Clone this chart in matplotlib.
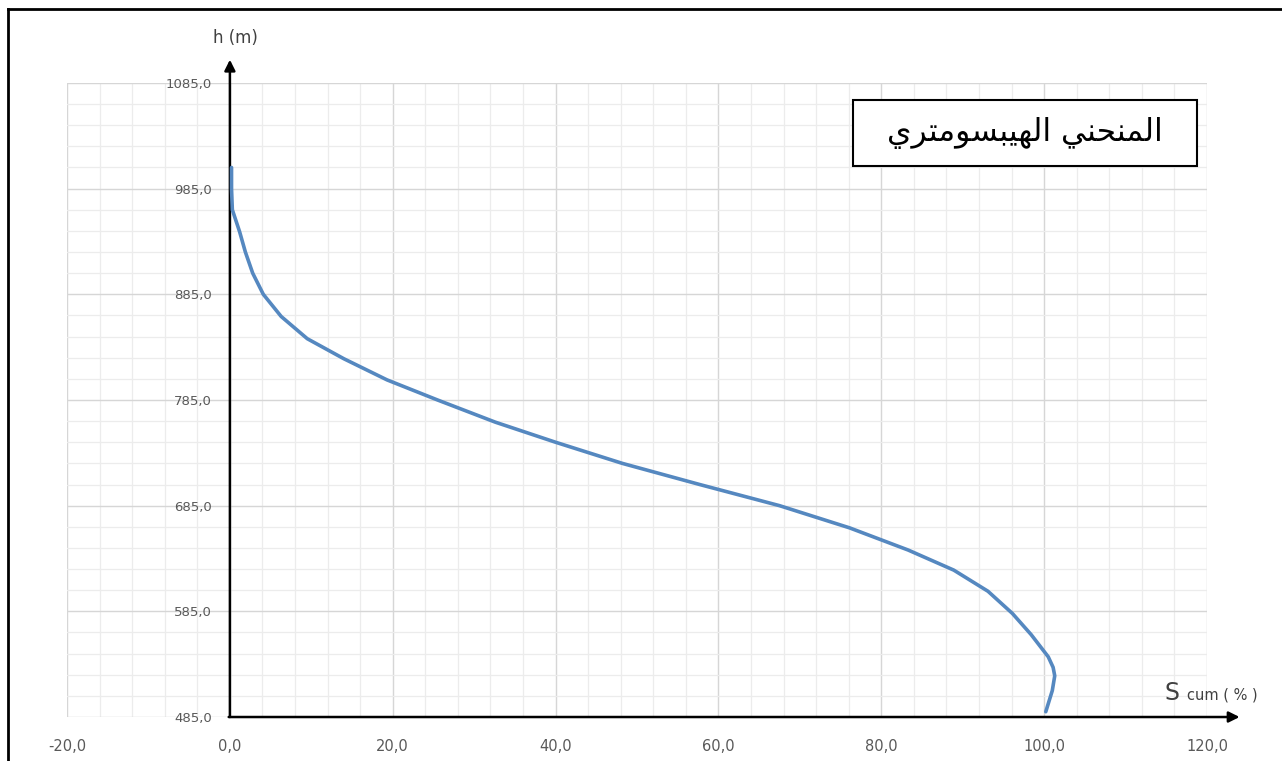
import matplotlib.pyplot as plt
from matplotlib.lines import Line2D
from matplotlib.patches import Rectangle
from matplotlib.ticker import FuncFormatter

# courbe hypsometrique : surface cumulee (%) / altitude (m)
s_cum = [0.2, 0.2, 0.3, 1.2, 1.9, 2.8, 4.1, 6.3, 9.5, 14.0, 19.3, 25.5,
         32.6, 40.0, 48.2, 57.7, 67.5, 76.1, 83.3, 88.9, 93.1, 96.1, 98.4,
         100.5, 101.1, 101.3, 101.0, 100.6, 100.2]
h = [1005, 985, 965, 944, 925, 905, 885, 864, 843, 824, 804, 785,
     764, 745, 725, 705, 685, 664, 643, 624, 604, 583, 563,
     542, 532, 524, 510, 500, 490]

x_ticks = [-20, 0, 20, 40, 60, 80, 100, 120]
x_minor = list(range(-20, 121, 4))
y_ticks = [485, 585, 685, 785, 885, 985, 1085]
y_minor = list(range(485, 1086, 20))

titre = 'المنحني الهيبسومتري'

# formes contextuelles (isolee, finale, initiale, mediane)
formes = {
    'ا': ('\uFE8D', '\uFE8E', None, None),
    'ل': ('\uFEDD', '\uFEDE', '\uFEDF', '\uFEE0'),
    'م': ('\uFEE1', '\uFEE2', '\uFEE3', '\uFEE4'),
    'ن': ('\uFEE5', '\uFEE6', '\uFEE7', '\uFEE8'),
    'ح': ('\uFEA1', '\uFEA2', '\uFEA3', '\uFEA4'),
    'ي': ('\uFEF1', '\uFEF2', '\uFEF3', '\uFEF4'),
    'ه': ('\uFEE9', '\uFEEA', '\uFEEB', '\uFEEC'),
    'ب': ('\uFE8F', '\uFE90', '\uFE91', '\uFE92'),
    'س': ('\uFEB1', '\uFEB2', '\uFEB3', '\uFEB4'),
    'و': ('\uFEED', '\uFEEE', None, None),
    'ت': ('\uFE95', '\uFE96', '\uFE97', '\uFE98'),
    'ر': ('\uFEAD', '\uFEAE', None, None),
}


def forme_mot(mot):
    res = []
    for i, c in enumerate(mot):
        f = formes[c]
        avant = i > 0 and formes[mot[i - 1]][2] is not None
        apres = i < len(mot) - 1 and f[2] is not None
        if avant and apres:
            res.append(f[3])
        elif avant:
            res.append(f[1])
        elif apres:
            res.append(f[2])
        else:
            res.append(f[0])
    return ''.join(reversed(res))


def arabe(txt):
    return ' '.join(forme_mot(m) for m in reversed(txt.split(' ')))


def virgule(v, pos=None):
    return f'{v:.1f}'.replace('.', ',')


fig = plt.figure(figsize=(12.82, 7.61), dpi=100)
fig.patch.set_facecolor('white')
ax = fig.add_axes([0.0523, 0.0578, 0.8892, 0.8332])
ax.set_xlim(-20, 120)
ax.set_ylim(485, 1085)

ax.set_xticks(x_ticks)
ax.set_xticks(x_minor, minor=True)
ax.set_yticks(y_ticks)
ax.set_yticks(y_minor, minor=True)
ax.xaxis.set_major_formatter(FuncFormatter(virgule))
ax.yaxis.set_major_formatter(FuncFormatter(virgule))

ax.grid(which='major', color='#d6d6d6', lw=1.0, zorder=0)
ax.grid(which='minor', color='#ececec', lw=0.9, zorder=0)
for sp in ax.spines.values():
    sp.set_visible(False)
ax.spines['left'].set_position(('data', 0))

ax.tick_params(which='both', length=0)
ax.tick_params(axis='x', pad=16, labelsize=10.5, labelcolor='#595959')
ax.tick_params(axis='y', pad=13, labelsize=9.5, labelcolor='#595959')

# axes avec fleches
ax.annotate('', xy=(0, 1107), xytext=(0, 485),
            arrowprops=dict(arrowstyle='-|>', color='black', lw=1.8,
                            mutation_scale=16, shrinkA=0, shrinkB=0),
            annotation_clip=False, zorder=4)
ax.annotate('', xy=(124, 485), xytext=(-0.15, 485),
            arrowprops=dict(arrowstyle='-|>', color='black', lw=1.8,
                            mutation_scale=16, shrinkA=0, shrinkB=0),
            annotation_clip=False, zorder=4)

ax.plot(s_cum, h, color='#5588c0', lw=2.6, solid_capstyle='round',
        solid_joinstyle='round', zorder=5, clip_on=False)

# cadre du titre
ax.add_patch(Rectangle((0.6895, 0.869), 0.3015, 0.104, transform=ax.transAxes,
                       facecolor='white', edgecolor='black', lw=1.5, zorder=6))
ax.text(0.8405, 0.921, arabe(titre), transform=ax.transAxes, ha='center',
        va='center', fontsize=22.5, family=['DejaVu Sans'], color='black',
        zorder=7)

fig.text(0.1833, 0.950, 'h (m)', ha='center', va='center', fontsize=12,
         color='#404040')
fig.text(0.9087, 0.0802, 'S', ha='left', va='baseline', fontsize=17,
         color='#404040')
fig.text(0.9259, 0.0802, 'cum ( % )', ha='left', va='baseline', fontsize=10.5,
         color='#404040')

# bordure exterieure
fig.add_artist(Line2D([0.0062, 1.0], [0.988, 0.988], color='black', lw=2))
fig.add_artist(Line2D([0.0062, 0.0062], [0.0, 0.988], color='black', lw=2))

fig.savefig('out.png', dpi=100)
